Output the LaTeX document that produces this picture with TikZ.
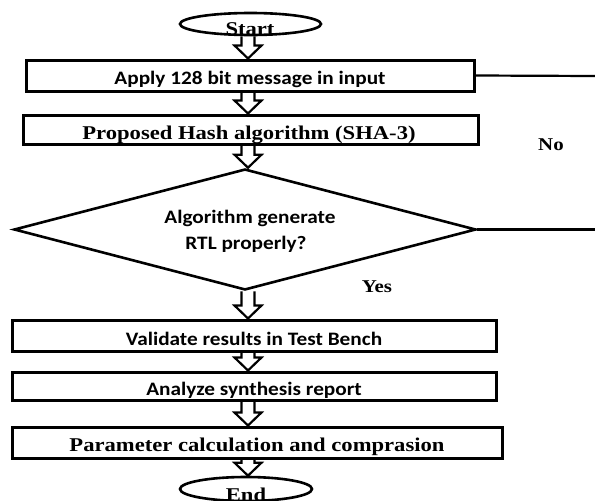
\documentclass[tikz,border=0pt]{standalone}
\usepackage{fontspec}
\usetikzlibrary{shapes.geometric,calc}
\newfontfamily\calb[FakeStretch=1.12]{Carlito}
\newfontfamily\camb[FakeStretch=1.16]{Liberation Serif}
\pgfdeclarelayer{bg}
\pgfdeclarelayer{paper}
\pgfsetlayers{paper,bg,main}
\tikzset{
  boxn/.style={draw, line width=3pt, rectangle, inner sep=0pt},
  elln/.style={draw, line width=2.6pt, ellipse, inner sep=0pt, minimum width=141pt, minimum height=22pt},
  sanst/.style={font=\calb\bfseries\fontsize{19}{22}\selectfont, anchor=base, inner sep=0pt},
  serift/.style={font=\camb\bfseries\fontsize{19.5}{22}\selectfont, anchor=base, inner sep=0pt},
  lbl/.style={font=\camb\bfseries\fontsize{18}{21}\selectfont, fill=white, inner sep=3pt},
  hollow/.style={draw, line width=2.2pt, fill=white, line join=miter,
    to path={let \p1=(\tikztostart), \p2=(\tikztotarget) in
      (\x1-6.5pt,\y1) -- (\x1-6.5pt,\y2+13pt) -- (\x1-13.5pt,\y2+13pt) -- (\x1,\y2)
      -- (\x1+13.5pt,\y2+13pt) -- (\x1+6.5pt,\y2+13pt) -- (\x1+6.5pt,\y1)}},
  conn/.style={draw, line width=2.2pt}
}
\begin{document}
\begin{tikzpicture}[x=1pt,y=-1pt]
\begin{pgfonlayer}{paper}
\fill[white] (0,0) rectangle (595,501);
\end{pgfonlayer}
\useasboundingbox (0,0) rectangle (595,501);
% nodes
\node[elln] (start) at (250.5,24) {};
\node[boxn, minimum width=448pt, minimum height=31pt] (b1) at (250,75.5) {};
\node[boxn, minimum width=455pt, minimum height=29pt] (b2) at (250.5,129.5) {};
\node[draw, line width=2.6pt, diamond, aspect=3.82, inner sep=0pt, minimum width=462pt, minimum height=121pt] (dec) at (245,229.5) {};
\node[boxn, minimum width=484pt, minimum height=31pt] (b3) at (254,335.5) {};
\node[boxn, minimum width=484pt, minimum height=28pt] (b4) at (254,386) {};
\node[boxn, minimum width=490pt, minimum height=31pt] (b5) at (257,442.5) {};
\node[elln, minimum width=132pt, minimum height=24pt] (endn) at (246,489) {};
% texts
\node[serift] (tstart) at (250,35) {Start};
\node[sanst] (t1) at (250,84) {Apply 128 bit message in input};
\node[serift] (t2) at (249,139) {Proposed Hash algorithm (SHA-3)};
\node[sanst] (t3a) at (250,223) {Algorithm generate};
\node[sanst] (t3b) at (246,249) {RTL properly?};
\node[sanst] (t4) at (254,345) {Validate results in Test Bench};
\node[sanst] (t5) at (254,395) {Analyze synthesis report};
\node[serift] (t6) at (257,451) {Parameter calculation and comprasion};
\node[serift] (tend) at (246,501) {End};
\node[lbl] (no) at (551,145) {No};
\node[lbl] (yes) at (377,287) {Yes};
% connectors
\coordinate (axis) at (248,0);
\coordinate (r1) at (595,76);
\coordinate (r2) at (595,229.5);
\draw[conn] (b1.east) -- (r1);
\draw[conn] (dec.east) -- (r2);
\begin{pgfonlayer}{bg}
\draw[hollow] (start.south -| axis) to (b1.north -| axis);
\draw[hollow] (b1.south -| axis) to (b2.north -| axis);
\draw[hollow] (b2.south -| axis) to (dec.north -| axis);
\draw[hollow] (dec.south -| axis) to (b3.north -| axis);
\draw[hollow] (b3.south -| axis) to (b4.north -| axis);
\draw[hollow] (b4.south -| axis) to (b5.north -| axis);
\draw[hollow] (b5.south -| axis) to (endn.north -| axis);
\end{pgfonlayer}
\end{tikzpicture}
\end{document}
